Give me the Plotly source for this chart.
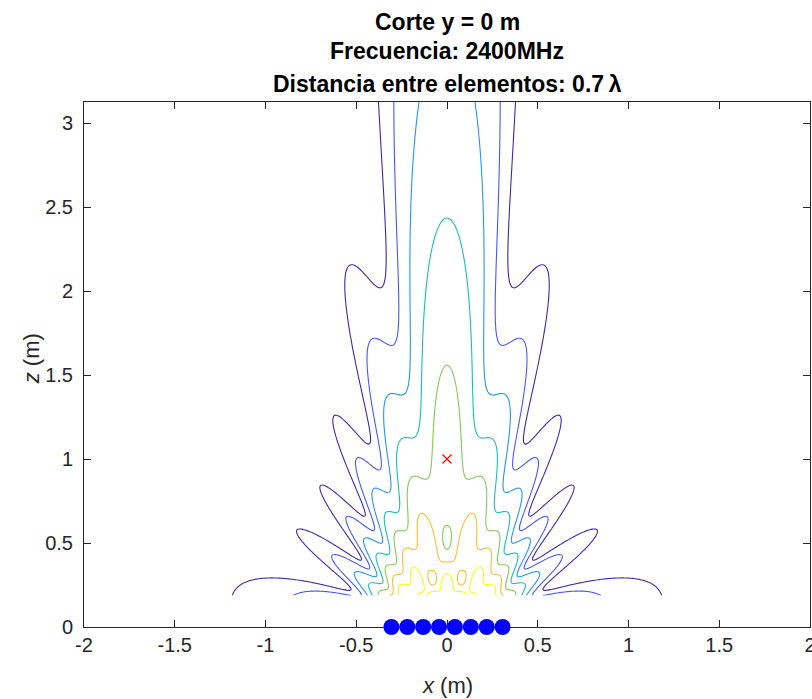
import numpy as np
import plotly.graph_objects as go

# --- parameters of the linear array ---------------------------------------
freq_mhz = 2400
spacing_wl = 0.7                     # element spacing in wavelengths
n_elements = 8
focus_point = (0.0, 1.0)             # marked point (x, z) in metres
levels_db = [-21, -18, -15, -12, -9, -6, -3]
level_colors = ["#3E2AA8", "#4758F8", "#2796EB", "#18BFB6",
                "#81CC59", "#FEBD3C", "#F9FB15"]   # parula samples
x_ticks = [-2, -1.5, -1, -0.5, 0, 0.5, 1, 1.5, 2]
x_tick_text = ["-2", "-1.5", "-1", "-0.5", "0", "0.5", "1", "1.5", "2"]
z_ticks = [0, 0.5, 1, 1.5, 2, 2.5, 3]
z_tick_text = ["0", "0.5", "1", "1.5", "2", "2.5", "3"]

c0 = 3e8
lam = c0 / (freq_mhz * 1e6)
k = 2 * np.pi / lam
d = spacing_wl * lam
x_el = (np.arange(n_elements) - (n_elements - 1) / 2) * d
z_el = np.zeros(n_elements)

# --- field of the isotropic point sources on the y = 0 plane -------------
x = np.linspace(-2, 2, 541)
z = np.linspace(1.5 * lam, 25 * lam, 400)
X, Z = np.meshgrid(x, z)
E = np.zeros_like(X, dtype=complex)
for xe in x_el:
    r = np.sqrt((X - xe) ** 2 + Z ** 2)
    E += np.exp(-1j * k * r) / r
E_db = 20 * np.log10(np.abs(E) / np.abs(E).max())

fig = go.Figure()
fig.add_trace(go.Contour(
    x=x, y=z, z=E_db,
    contours=dict(coloring="lines", start=levels_db[0], end=levels_db[-1],
                  size=3, showlabels=False),
    colorscale=[[i / (len(level_colors) - 1), col] for i, col in enumerate(level_colors)],
    zmin=levels_db[0], zmax=levels_db[-1], zauto=False,
    line=dict(width=1.1), showscale=False, hoverinfo="skip",
))
fig.add_trace(go.Scatter(
    x=x_el, y=z_el, mode="markers", cliponaxis=False,
    marker=dict(color="#0000FF", size=16, line=dict(width=0)),
))
fig.add_trace(go.Scatter(
    x=[focus_point[0]], y=[focus_point[1]], mode="markers",
    marker=dict(symbol="x-thin", size=9, line=dict(color="#FF0000", width=1.2)),
))

axis_common = dict(
    showgrid=False, zeroline=False, showline=True, mirror="ticks",
    linecolor="#262626", linewidth=1, ticks="inside", ticklen=7,
    tickcolor="#262626", tickwidth=1, ticklabeloverflow="allow",
    automargin=False,
    tickfont=dict(family="Liberation Sans, Arial, sans-serif", size=20, color="#262626"),
)
fig.update_xaxes(range=[-2, 2], tickvals=x_ticks, ticktext=x_tick_text, **axis_common)
fig.update_yaxes(range=[0, 25 * lam], tickvals=z_ticks, ticktext=z_tick_text,
                 ticklabelstandoff=6, **axis_common)

title_lines = [
    "Corte y = 0 m",
    f"Frecuencia: {freq_mhz}MHz",
    f"Distancia entre elementos: {spacing_wl}\u2009λ",
]
title_y = [1.152, 1.097, 1.034]
annotations = []
for txt, ty in zip(title_lines, title_y):
    annotations.append(dict(
        text=f"<b>{txt}</b>", x=0.5, y=ty, xref="paper", yref="paper",
        xanchor="center", yanchor="middle", showarrow=False,
        font=dict(family="Liberation Sans, Arial, sans-serif", size=23, color="#000000"),
    ))
annotations.append(dict(
    text="<i>x</i> (m)", x=0.5, y=-0.112, xref="paper", yref="paper",
    xanchor="center", yanchor="middle", showarrow=False,
    font=dict(family="Liberation Sans, Arial, sans-serif", size=22, color="#262626"),
))
annotations.append(dict(
    text="<i>z</i> (m)", x=-0.073, y=0.51, xref="paper", yref="paper",
    xanchor="center", yanchor="middle", showarrow=False, textangle=-90,
    font=dict(family="Liberation Sans, Arial, sans-serif", size=22, color="#262626"),
))

fig.update_layout(
    width=812, height=699, showlegend=False,
    margin=dict(l=84, r=2, t=102, b=72, autoexpand=False),
    paper_bgcolor="white", plot_bgcolor="white",
    annotations=annotations,
)
fig.write_html("out.html")
